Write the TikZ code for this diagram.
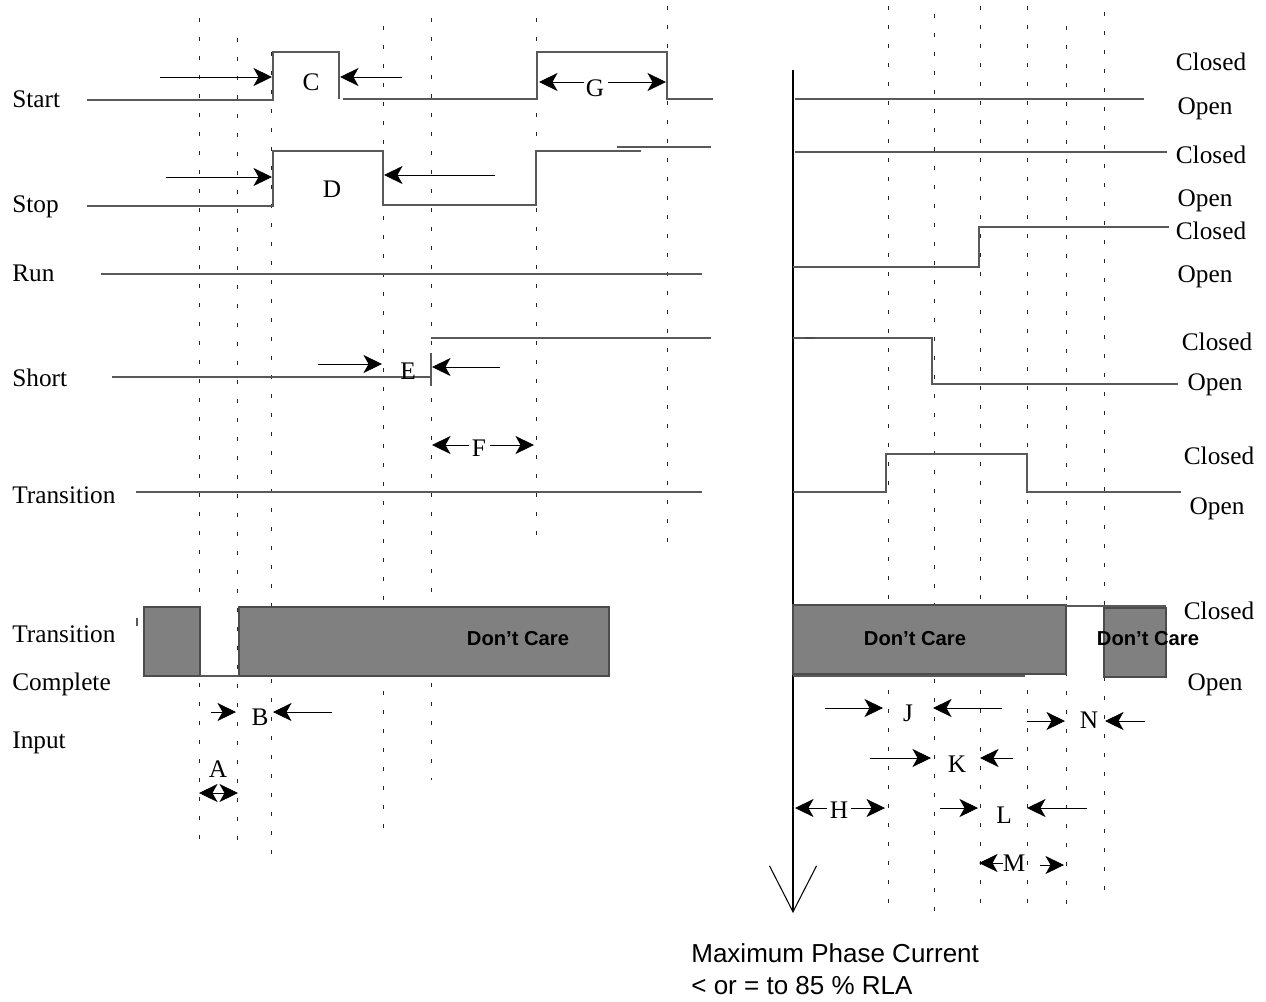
\documentclass[tikz,border=0pt]{standalone}
\usepackage{fontspec}
\setmainfont{Liberation Serif}
\setsansfont{Liberation Sans}
\usetikzlibrary{arrows.meta}

\begin{document}
\begin{tikzpicture}[x=0.2mm, y=-0.2mm, >={Stealth[length=3.7mm, width=3.6mm, inset=1mm]},
  sig/.style={line width=0.6pt, draw=black!65},
  tmark/.style={line width=0.45pt, draw=black!85, dash pattern=on 0.8mm off 3mm},
  lbl/.style={anchor=base west, inner sep=0pt, font=\fontsize{14.4}{17}\selectfont},
  tag/.style={anchor=base, inner sep=0pt, font=\fontsize{14.4}{17}\selectfont},
  care/.style={fill=black!50, draw=black!70, line width=0.6pt},
  dc/.style={anchor=base, inner sep=0pt, font=\sffamily\bfseries\fontsize{11.5}{14}\selectfont},
  note/.style={anchor=base west, inner sep=0pt, font=\sffamily\fontsize{14.8}{17}\selectfont},
  dim/.style={->, line width=0.5pt}
]
\useasboundingbox (0,0) rectangle (1266,1001);

\foreach \x/\a/\b in {199/18/840, 237/38/848, 271/52/862, 383/26/836, 431/18/780,
  536/18/546, 667/6/548, 888/6/913, 934/14/919, 980/6/913, 1027/6/912, 1066/26/913, 1104/12/900}
  \draw[tmark] (\x,\a) -- (\x,\b);

\node[lbl] (start) at (12,107) {Start};
\node[lbl] (stop) at (12,212) {Stop};
\node[lbl] (run) at (12,281) {Run};
\node[lbl] (short) at (12,386) {Short};
\node[lbl] (trans) at (12,503) {Transition};
\node[lbl] (tcone) at (12,642) {Transition};
\node[lbl] (tctwo) at (12,690) {Complete};
\node[lbl] (tcthree) at (12,748) {Input};

\draw[sig] (87,100) -- (273,100) -- (273,52) -- (339,52) -- (339,99);
\draw[sig] (343,99) -- (537,99) -- (537,52) -- (667,52) -- (667,99) -- (713,99);
\draw[sig] (87,206) -- (273,206) -- (273,151) -- (383,151) -- (383,205) -- (536,205) -- (536,151) -- (641,151);
\draw[sig] (617,147) -- (711,147);
\draw[sig] (101,274) -- (702,274);
\draw[sig] (112,377) -- (431,377);
\draw[sig] (431,353) -- (431,386);
\draw[sig] (431,338) -- (711,338);
\draw[sig] (136,492) -- (702,492);
\draw[care] (144,607) rectangle (200,676);
\draw[care] (239,607) rectangle (609,676);
\draw[sig] (200,676) -- (239,676);
\draw[sig] (137,618) -- (137,626);
\node[dc] (dcleft) at (518,645) {Don’t Care};

\node[tag] (c) at (311,90) {C};
\draw[dim] (160,77) -- (272,77);
\draw[dim] (402,77) -- (340,77);
\node[tag] (g) at (595,96) {G};
\draw[dim] (584,82) -- (539,82);
\draw[dim] (608,82) -- (666,82);
\node[tag] (d) at (332,197) {D};
\draw[dim] (166,177) -- (272,177);
\draw[dim] (495,175) -- (384,175);
\node[tag] (e) at (408,379) {E};
\draw[dim] (318,364) -- (382,364);
\draw[dim] (500,367) -- (432,367);
\node[tag] (f) at (479,456) {F};
\draw[dim] (469,445) -- (432,445);
\draw[dim] (490,445) -- (534,445);
\node[tag] (b) at (260,725) {B};
\draw[dim] (211,712) -- (236,712);
\draw[dim] (332,712) -- (273,712);
\node[tag] (a) at (218,777) {A};
\draw[dim, <->] (199,793) -- (238,793);

\draw[line width=0.6pt, -{Straight Barb[length=9.2mm, width=9.4mm]}] (793,70) -- (793,913);

\draw[sig] (795,99) -- (1144,99);
\draw[sig] (795,152) -- (1167,152);
\draw[sig] (793,267) -- (979,267) -- (979,227) -- (1169,227);
\draw[sig] (793,338) -- (932,338) -- (932,384) -- (1178,384);
\draw[line width=1pt, black!70] (805,338) -- (815,338);
\draw[sig] (793,492) -- (886,492) -- (886,454) -- (1027,454) -- (1027,492) -- (1181,492);
\draw[care] (793,605) rectangle (1066,674);
\draw[sig] (1066,606) -- (1166,606);
\draw[sig] (793,676) -- (1025,676);
\draw[care] (1104,608) rectangle (1166,677);
\node[dc] (dcmid) at (915,645) {Don’t Care};
\node[dc] (dcright) at (1148,645) {Don’t Care};

\foreach \x/\y/\t [count=\i] in {1211/70/Closed, 1205/114/Open, 1211/163/Closed, 1205/206/Open,
  1211/239/Closed, 1205/282/Open, 1217/350/Closed, 1215/390/Open,
  1219/464/Closed, 1217/514/Open, 1219/619/Closed, 1215/690/Open}
  \node[tag] (st\i) at (\x,\y) {\t};

\node[tag] (j) at (908,721) {J};
\draw[dim] (825,708) -- (883,708);
\draw[dim] (1002,708) -- (933,708);
\node[tag] (n) at (1089,728) {N};
\draw[dim] (1027,721) -- (1065,721);
\draw[dim] (1145,721) -- (1105,721);
\node[tag] (k) at (957,772) {K};
\draw[dim] (870,758) -- (931,758);
\draw[dim] (1013,758) -- (980,758);
\node[tag] (h) at (839,818) {H};
\draw[dim] (827,808) -- (795,808);
\draw[dim] (851,808) -- (885,808);
\node[tag] (l) at (1004,823) {L};
\draw[dim] (940,808) -- (978,808);
\draw[dim] (1087,808) -- (1027,808);
\node[tag] (m) at (1014,871) {M};
\draw[dim] (1003,863) -- (979,863);
\draw[dim] (1040,865) -- (1064,865);

\node[note] (mpc) at (691,962) {Maximum Phase Current};
\node[note] (rla) at (691,994) {< or = to 85 \% RLA};
\end{tikzpicture}
\end{document}
